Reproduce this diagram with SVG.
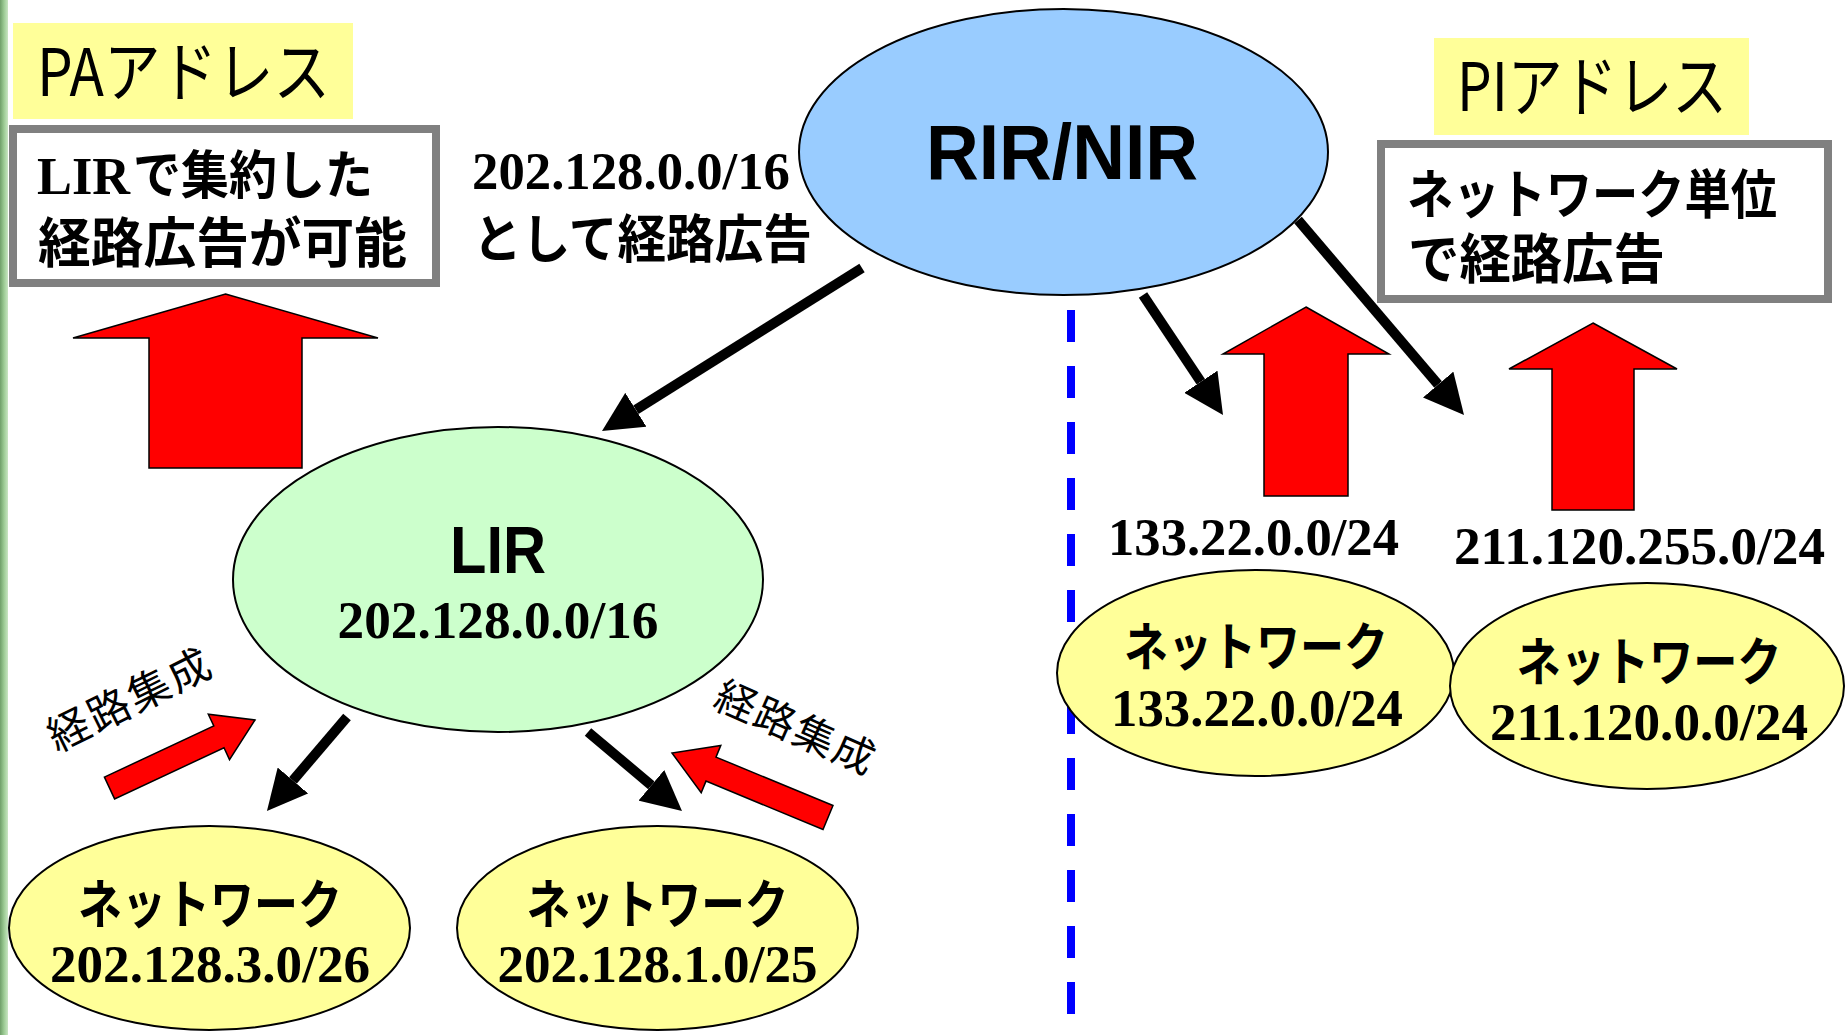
<svg xmlns="http://www.w3.org/2000/svg" width="1845" height="1035" viewBox="0 0 1845 1035">
<style>
.jp{font-family:"Noto Sans CJK JP","Noto Sans",sans-serif;fill:#000}
.jpb{font-family:"Noto Sans CJK JP","Noto Sans",sans-serif;font-weight:700;fill:#000}
.num{font-family:"Liberation Serif","Times New Roman",serif;font-weight:700;fill:#000}
.sb{font-family:"Liberation Sans",Arial,sans-serif;font-weight:700;fill:#000}
.ell{stroke:#000;stroke-width:2}
.label{fill:#ffff99}
.gbox{fill:#fff;stroke:#808080;stroke-width:8}
.red{fill:#ff0000;stroke:#000;stroke-width:1.5;stroke-linejoin:miter}
.conn{stroke:#000;stroke-width:10;fill:none;marker-end:url(#ah)}
</style>
<defs>
<marker id="ah" markerUnits="userSpaceOnUse" viewBox="0 0 40 40" markerWidth="40" markerHeight="40" refX="0" refY="20" orient="auto">
<path d="M0,0 L40,20 L0,40 Z" fill="#000"/>
</marker>
<linearGradient id="gb" x1="0" y1="0" x2="1" y2="0">
<stop offset="0" stop-color="#6f9f69"/>
<stop offset="0.5" stop-color="#9ccb94"/>
<stop offset="1" stop-color="#c9e6c3"/>
</linearGradient>
</defs>
<rect width="1845" height="1035" fill="#fff"/>
<rect x="0" y="0" width="8" height="1035" fill="url(#gb)"/>

<g id="pa-label">
<rect class="label" x="13" y="23" width="340" height="96"/>
<text class="jp" x="37" y="96" font-size="66" textLength="293" lengthAdjust="spacingAndGlyphs">PAアドレス</text>
</g>
<g id="pa-note">
<rect class="gbox" x="13" y="129" width="423" height="154"/>
<text class="num" x="37" y="194" font-size="52" textLength="93" lengthAdjust="spacingAndGlyphs">LIR</text>
<text class="jpb" x="133" y="194" font-size="52" textLength="240" lengthAdjust="spacingAndGlyphs">で集約した</text>
<text class="jpb" x="38" y="263" font-size="54" textLength="369" lengthAdjust="spacingAndGlyphs">経路広告が可能</text>
</g>
<g id="pa-arrow">
<polygon class="red" points="225.5,294 378,338 302,338 302,468 149,468 149,338 73,338"/>
</g>
<g id="rir-adv-label">
<text class="num" x="472" y="189" font-size="53" textLength="318" lengthAdjust="spacingAndGlyphs">202.128.0.0/16</text>
<text class="jpb" x="473" y="258" font-size="52" textLength="339" lengthAdjust="spacingAndGlyphs">として経路広告</text>
</g>

<g id="pi-label">
<rect class="label" x="1434" y="38" width="315" height="97"/>
<text class="jp" x="1457" y="111" font-size="67" textLength="270" lengthAdjust="spacingAndGlyphs">PIアドレス</text>
</g>
<g id="pi-note">
<rect class="gbox" x="1381" y="144" width="447" height="155"/>
<text class="jpb" x="1407" y="214" font-size="53" textLength="370" lengthAdjust="spacingAndGlyphs">ネットワーク単位</text>
<text class="jpb" x="1408" y="279" font-size="54" textLength="257" lengthAdjust="spacingAndGlyphs">で経路広告</text>
</g>
<g id="pi-arrow-1">
<polygon class="red" points="1306,307 1389,354 1348,354 1348,496 1264,496 1264,354 1223,354"/>
</g>
<g id="pi-arrow-2">
<polygon class="red" points="1593,323 1677,369 1634,369 1634,510 1552,510 1552,369 1509,369"/>
</g>

<g id="divider">
<line x1="1071" y1="310" x2="1071" y2="1016" stroke="#0000ff" stroke-width="8" stroke-dasharray="32 24"/>
</g>

<g id="rir">
<ellipse class="ell" cx="1063.5" cy="152" rx="264.5" ry="143" fill="#99ccff"/>
<text class="sb" x="1062" y="179" font-size="77" text-anchor="middle" textLength="272" lengthAdjust="spacingAndGlyphs">RIR/NIR</text>
</g>

<g id="lir">
<ellipse class="ell" cx="498" cy="579.5" rx="265" ry="152.5" fill="#ccffcc"/>
<text class="sb" x="498" y="573" font-size="66" text-anchor="middle" textLength="96" lengthAdjust="spacingAndGlyphs">LIR</text>
<text class="num" x="498" y="638" font-size="53" text-anchor="middle" textLength="321" lengthAdjust="spacingAndGlyphs">202.128.0.0/16</text>
</g>

<g id="net-202-128-3">
<ellipse class="ell" cx="209.5" cy="928" rx="200.5" ry="102" fill="#ffff99"/>
<text class="jpb" x="210" y="924" font-size="53" text-anchor="middle" textLength="264" lengthAdjust="spacingAndGlyphs">ネットワーク</text>
<text class="num" x="210" y="982" font-size="52" text-anchor="middle" textLength="320" lengthAdjust="spacingAndGlyphs">202.128.3.0/26</text>
</g>
<g id="net-202-128-1">
<ellipse class="ell" cx="657.5" cy="928" rx="200.5" ry="102" fill="#ffff99"/>
<text class="jpb" x="657.5" y="924" font-size="53" text-anchor="middle" textLength="262" lengthAdjust="spacingAndGlyphs">ネットワーク</text>
<text class="num" x="657.5" y="982" font-size="52" text-anchor="middle" textLength="320" lengthAdjust="spacingAndGlyphs">202.128.1.0/25</text>
</g>
<g id="net-133-22">
<ellipse class="ell" cx="1255.5" cy="673" rx="198.5" ry="103" fill="#ffff99"/>
<text class="jpb" x="1256" y="666" font-size="52" text-anchor="middle" textLength="264" lengthAdjust="spacingAndGlyphs">ネットワーク</text>
<text class="num" x="1257" y="726" font-size="52" text-anchor="middle" textLength="292" lengthAdjust="spacingAndGlyphs">133.22.0.0/24</text>
</g>
<g id="net-211-120">
<ellipse class="ell" cx="1647" cy="686" rx="197" ry="103" fill="#ffff99"/>
<text class="jpb" x="1649" y="681" font-size="52" text-anchor="middle" textLength="265" lengthAdjust="spacingAndGlyphs">ネットワーク</text>
<text class="num" x="1649" y="740" font-size="52" text-anchor="middle" textLength="318" lengthAdjust="spacingAndGlyphs">211.120.0.0/24</text>
</g>

<g id="pi-prefix-labels">
<text class="num" x="1108" y="555" font-size="53" textLength="291" lengthAdjust="spacingAndGlyphs">133.22.0.0/24</text>
<text class="num" x="1454" y="564" font-size="53" textLength="371" lengthAdjust="spacingAndGlyphs">211.120.255.0/24</text>
</g>

<g id="aggregation-left">
<polygon class="red" points="104.4,777.1 213.8,726.0 208.3,714.2 255,720 229.5,759.6 224.0,747.8 114.6,798.9"/>
<text class="jp" transform="translate(129,700) rotate(-26.4)" x="0" y="15" font-size="42" text-anchor="middle" textLength="176" lengthAdjust="spacing">経路集成</text>
</g>
<g id="aggregation-right">
<polygon class="red" points="833.0,805.5 716.0,757.1 720.8,745.4 672,753 701.2,792.8 706.0,781.1 823.0,829.5"/>
<text class="jp" transform="translate(795,727) rotate(23.8)" x="0" y="15" font-size="41" text-anchor="middle" textLength="170" lengthAdjust="spacing">経路集成</text>
</g>

<g id="connectors">
<line class="conn" x1="862" y1="268" x2="635.9" y2="409.8"/>
<line class="conn" x1="1143" y1="295" x2="1200.8" y2="381.7"/>
<line class="conn" x1="1298" y1="220" x2="1438.1" y2="384.6"/>
<line class="conn" x1="347" y1="717" x2="292.9" y2="780.5"/>
<line class="conn" x1="588" y1="732" x2="651.4" y2="785.3"/>
</g>
</svg>
